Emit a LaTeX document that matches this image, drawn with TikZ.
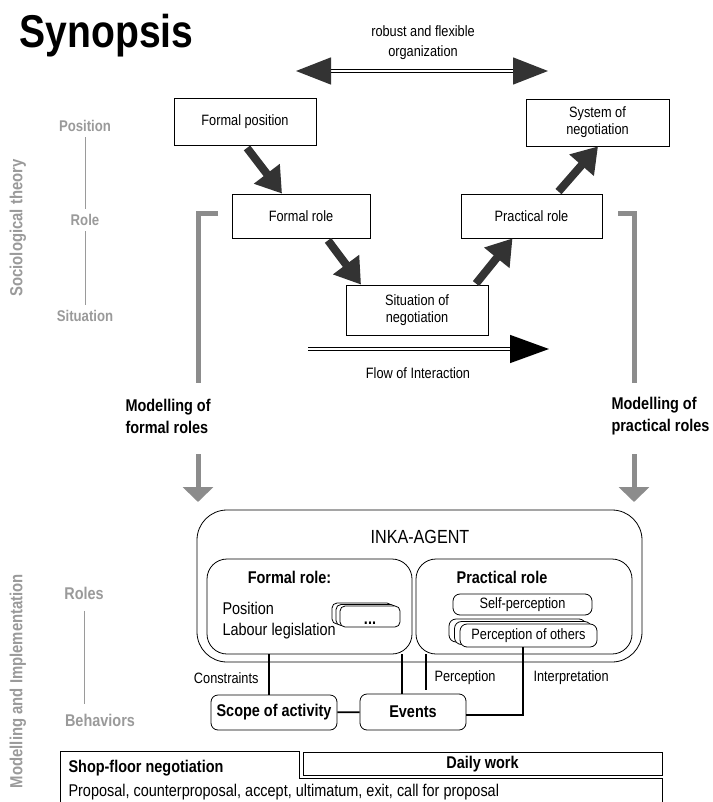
\documentclass[tikz,border=0pt]{standalone}
\usepackage{fontspec}
\setmainfont{Liberation Sans}[FakeStretch=0.85]
\usetikzlibrary{arrows.meta,shadows}

\definecolor{arrowgray}{HTML}{333333}
\definecolor{bargray}{HTML}{8C8C8C}
\definecolor{labelgray}{HTML}{9A9A9A}
\newcommand{\fsz}[2]{\fontsize{#1}{#2}\selectfont}

\begin{document}
\begin{tikzpicture}[x=1pt,y=-1pt,
  box/.style={draw,line width=0.8pt,minimum width=142pt,minimum height=47pt,align=center,font=\fsz{15}{17}},
  rbox/.style={draw,fill=white,line width=0.8pt,rounded corners=7pt,inner sep=0pt},
  fat/.style={draw=arrowgray,line width=8pt,-{Triangle[length=25pt,width=31pt]}},
  dbl/.style={draw=black,line width=1.4pt,double=white,double distance=1.6pt},
  bar/.style={draw=bargray,line width=5pt},
  link/.style={draw,line width=1.8pt},
  level/.style={text=labelgray,font=\bfseries\fsz{15.5}{18}},
  side/.style={text=labelgray,font=\bfseries\fsz{17.5}{20},rotate=90},
  small/.style={font=\fsz{15}{17}}]
  \useasboundingbox (0,0) rectangle (712,802);

  \node[anchor=base west,font=\bfseries\fsz{46}{46}] (title) at (16,48) {Synopsis};

  % sociological theory
  \node[side] (soc) at (18,228) {Sociological theory};
  \foreach \lbl/\y/\nm in {Position/126/lpos,Role/220/lrole,Situation/316/lsit}
    \node[level] (\nm) at (85,\y) {\lbl};
  \draw[labelgray,line width=0.8pt,shorten <=2pt,shorten >=2pt] (lpos) -- (lrole);
  \draw[labelgray,line width=0.8pt,shorten <=2pt,shorten >=2pt] (lrole) -- (lsit);

  \node[box] (fpos) at (245,122) {Formal position};
  \node[box,minimum width=143pt] (sys) at (597.5,122.5) {System of\\negotiation};
  \node[box,minimum width=138pt,minimum height=44pt] (frole) at (301,216) {Formal role};
  \node[box,minimum width=141pt,minimum height=44pt] (prole) at (531.5,216) {Practical role};
  \node[box,minimum height=50pt] (sit) at (417,310) {Situation of\\negotiation};

  \draw[fat] ([xshift=2pt,yshift=-2pt]fpos.south) -- ([xshift=-19pt]frole.north);
  \draw[fat] ([xshift=27pt,yshift=-2pt]frole.south) -- ([xshift=-56pt]sit.north);
  \draw[fat] ([xshift=59pt,yshift=1pt]sit.north) -- ([xshift=-19pt]prole.south);
  \draw[fat] ([xshift=27pt,yshift=2pt]prole.north) -- ([xshift=0.5pt]sys.south);

  \coordinate (orgl) at (296,71);
  \coordinate (orgr) at (548,71);
  \draw[dbl,{Triangle[length=35pt,width=27pt,color=arrowgray]}-{Triangle[length=35pt,width=27pt,color=arrowgray]}] (orgl) -- (orgr);
  \node[align=center,font=\fsz{15}{20}] (org) at (423,43) {robust and flexible\\organization};

  \coordinate (flowl) at (308,349);
  \coordinate (flowr) at (549,349);
  \draw[dbl,-{Triangle[length=39pt,width=28pt,color=black]}] (flowl) -- (flowr);
  \node[small] (flow) at (418,373) {Flow of Interaction};

  % modelling
  \draw[bar] (218,214) -- (198,214) -- (198,383);
  \draw[bar] (618,214) -- (634,214) -- (634,383);
  \node[anchor=west,align=left,font=\bfseries\fsz{17}{22}] (mfr) at (122,416) {Modelling of\\formal roles};
  \node[anchor=west,align=left,font=\bfseries\fsz{17}{22}] (mpr) at (608,416) {Modelling of\\practical roles};
  \coordinate (gla) at (198,454);
  \coordinate (glb) at (198,502);
  \coordinate (gra) at (634,454);
  \coordinate (grb) at (634,502);
  \draw[bar,-{Triangle[length=15pt,width=30pt]}] (gla) -- (glb);
  \draw[bar,-{Triangle[length=15pt,width=30pt]}] (gra) -- (grb);

  % agent
  \node[side] (mod) at (18,681) {Modelling and Implementation};
  \node[level,font=\bfseries\fsz{17}{20}] (lroles) at (84,593) {Roles};
  \node[level,font=\bfseries\fsz{17}{20}] (lbeh) at (100,720) {Behaviors};
  \draw[labelgray,line width=0.8pt] ([yshift=-8pt]lroles.south) -- ([yshift=6pt]lroles.south |- lbeh.north);

  \node[draw,line width=0.8pt,rounded corners=30pt,minimum width=445pt,minimum height=152pt] (agent) at (419.5,586) {};
  \node[font=\fsz{19}{22}] (inka) at (420,537) {INKA-AGENT};
  \node[draw,line width=0.8pt,rounded corners=20pt,minimum width=205pt,minimum height=95pt] (frl) at (309.5,606.5) {};
  \node[draw,line width=0.8pt,rounded corners=20pt,minimum width=216pt,minimum height=95pt] (prl) at (524,606.5) {};
  \node[font=\bfseries\fsz{17}{20}] (frlt) at (289.5,577) {Formal role:};
  \node[anchor=west,align=left,font=\fsz{17}{21}] (frlx) at (219,620.5) {Position\\Labour legislation};
  \node[rbox,minimum width=60pt,minimum height=21pt,rounded corners=5pt,
    text height=15pt,text depth=0pt,
    double copy shadow={shadow xshift=-4pt,shadow yshift=1.5pt},
    font=\bfseries\fsz{17}{17}] (more) at (370,616.5) {...};
  \node[font=\bfseries\fsz{17}{20}] (prlt) at (502,577) {Practical role};
  \node[rbox,minimum width=139pt,minimum height=21pt,font=\fsz{15}{17}] (self) at (522.5,604.5) {Self-perception};
  \node[rbox,minimum width=137pt,minimum height=23pt,font=\fsz{15}{17},
    double copy shadow={shadow xshift=-5.5pt,shadow yshift=2.5pt}] (pother) at (528.5,635.5) {Perception of others};

  \node[rbox,minimum width=126pt,minimum height=35pt,font=\bfseries\fsz{17}{20}] (scope) at (274,712.5) {Scope of activity};
  \node[rbox,minimum width=106pt,minimum height=36pt,font=\bfseries\fsz{17}{20}] (events) at (413,712) {Events};

  \draw[link] ([xshift=-5pt]scope.north) -- ([xshift=-5pt]scope.north |- frl.south);
  \draw[link] ([xshift=-11pt]events.north) -- ([xshift=-11pt]events.north |- frl.south);
  \draw[link] ([xshift=13pt,yshift=4pt]events.north) -- ([xshift=13pt]events.north |- prl.south);
  \draw[link] (scope) -- (events);
  \draw[link] ([xshift=-5.5pt]pother.south) |- ([yshift=-3pt]events.east);
  \node[small,anchor=east] (cons) at (262,678) {Constraints};
  \node[small,anchor=west] (perc) at (431,678) {Perception};
  \node[small,anchor=west] (interp) at (530,678) {Interpretation};

  % negotiation table
  \draw[line width=0.8pt] (60,802) -- (60,751) -- (299,751) -- (299,778) -- (662,778) -- (662,802);
  \node[draw,line width=0.8pt,minimum width=359pt,minimum height=22pt,font=\bfseries\fsz{17}{20}] (daily) at (482.5,764) {Daily work};
  \node[anchor=west,font=\bfseries\fsz{17}{20}] (shop) at (65,768) {Shop-floor negotiation};
  \node[anchor=west,font=\fsz{17}{20}] (acts) at (65,792) {Proposal, counterproposal, accept, ultimatum, exit, call for proposal};
\end{tikzpicture}
\end{document}
